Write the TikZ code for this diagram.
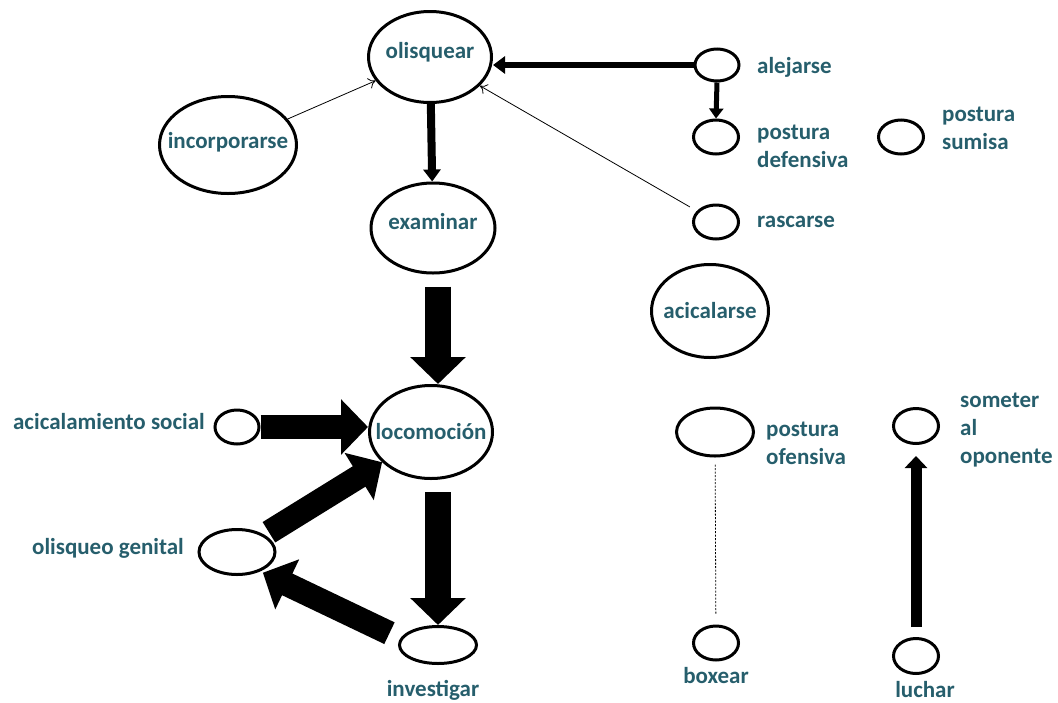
\documentclass[tikz,border=0pt]{standalone}
\usepackage{fontspec}
\setmainfont{Carlito}
\usetikzlibrary{shapes.geometric,arrows.meta}
\definecolor{tealtexto}{RGB}{38,94,108}

\begin{document}
\begin{tikzpicture}[x=1pt, y=-1pt,
		elipse/.style={ellipse, draw, line width=3pt, inner sep=0pt},
		etiqueta/.style={text=tealtexto, font=\bfseries\fontsize{23}{28}\selectfont, inner sep=0pt, align=left},
		flechafina/.style={-{To[length=7pt, width=11pt]}, line width=0.8pt},
		flechamedia/.style={-{Triangle[length=12pt, width=17pt]}, line width=6pt},
		flechagruesa/.style={-{Triangle[length=27pt, width=54pt]}, line width=26pt}]
	\useasboundingbox (0,0) rectangle (1058,702);

	% elipses
	\node[elipse, minimum width=123pt, minimum height=91pt] (olis) at (430, 57) {};
	\node[elipse, minimum width=137pt, minimum height=97pt] (inc) at (228, 145) {};
	\node[elipse, minimum width=124pt, minimum height=90pt] (exam) at (433, 228) {};
	\node[elipse, minimum width=123pt, minimum height=93pt] (loco) at (431, 432) {};
	\node[elipse, minimum width=117pt, minimum height=93pt] (acic) at (710, 311) {};
	\node[elipse, minimum width=44pt, minimum height=32pt] (alej) at (717, 65) {};
	\node[elipse, minimum width=45pt, minimum height=34pt] (pdef) at (716, 137) {};
	\node[elipse, minimum width=45pt, minimum height=34pt] (psum) at (901, 137) {};
	\node[elipse, minimum width=45pt, minimum height=34pt] (rasc) at (716, 222) {};
	\node[elipse, minimum width=44pt, minimum height=34pt] (asoc) at (237, 427) {};
	\node[elipse, minimum width=76pt, minimum height=45pt] (ogen) at (237, 552) {};
	\node[elipse, minimum width=77pt, minimum height=37pt] (inv) at (438, 645) {};
	\node[elipse, minimum width=77pt, minimum height=48pt] (pofe) at (715, 432) {};
	\node[elipse, minimum width=45pt, minimum height=34pt] (box) at (716, 643) {};
	\node[elipse, minimum width=45pt, minimum height=35pt] (som) at (916, 426) {};
	\node[elipse, minimum width=45pt, minimum height=35pt] (luch) at (916, 656) {};

	% flechas
	\draw[flechafina] (inc) -- (olis);
	\draw[flechafina, shorten <=8pt] (rasc) -- (olis);
	\draw[flechamedia] (alej.west) -- (alej.west -| olis.east);
	\draw[-{Triangle[length=10pt, width=14pt]}, line width=5pt] (alej.south) -- (pdef.north);
	\draw[flechamedia, line width=8pt] (olis) -- (exam);
	\draw[flechagruesa, shorten <=12pt] (exam.south -| inv.north) -- (loco.north -| inv.north);
	\draw[flechagruesa, shorten <=12pt] (loco.south -| inv.north) -- (inv.north);
	\draw[flechagruesa, line width=24pt] (asoc.east) -- (asoc.east -| loco.west);
	\draw[flechagruesa, line width=24pt, shorten <=5pt] (ogen) -- (loco);
	\draw[flechagruesa, line width=24pt, shorten <=12pt, shorten >=3pt] (inv.170) -- (ogen.-40);
	\draw[dash pattern=on 2pt off 1.5pt, line width=0.8pt, shorten <=7pt, shorten >=10pt] (pofe) -- (box);
	\draw[-{Triangle[length=12pt, width=22pt]}, line width=11pt, shorten <=10pt, shorten >=11pt] (luch) -- (som);

	% textos
	\node[etiqueta] (t-olis) at (430, 52) {olisquear};
	\node[etiqueta] (t-inc) at (228, 142) {incorporarse};
	\node[etiqueta] (t-exam) at (433, 222) {examinar};
	\node[etiqueta] (t-loco) at (431, 432) {locomoción};
	\node[etiqueta] (t-acic) at (710, 311) {acicalarse};
	\node[etiqueta, anchor=west] (t-alej) at (757, 67) {alejarse};
	\node[etiqueta, anchor=west] (t-pdef) at (757, 146) {postura\\defensiva};
	\node[etiqueta, anchor=west] (t-psum) at (942, 128) {postura\\sumisa};
	\node[etiqueta, anchor=west] (t-rasc) at (757, 222) {rascarse};
	\node[etiqueta, anchor=east] (t-asoc) at (205, 422) {acicalamiento social};
	\node[etiqueta, anchor=east] (t-ogen) at (184, 548) {olisqueo genital};
	\node[etiqueta] (t-inv) at (433, 690) {investigar};
	\node[etiqueta, anchor=west] (t-pofe) at (766, 443) {postura\\ofensiva};
	\node[etiqueta, anchor=west] (t-som) at (960, 430) {someter\\al\\oponente};
	\node[etiqueta] (t-box) at (716, 676) {boxear};
	\node[etiqueta] (t-luch) at (925, 690) {luchar};
\end{tikzpicture}
\end{document}
